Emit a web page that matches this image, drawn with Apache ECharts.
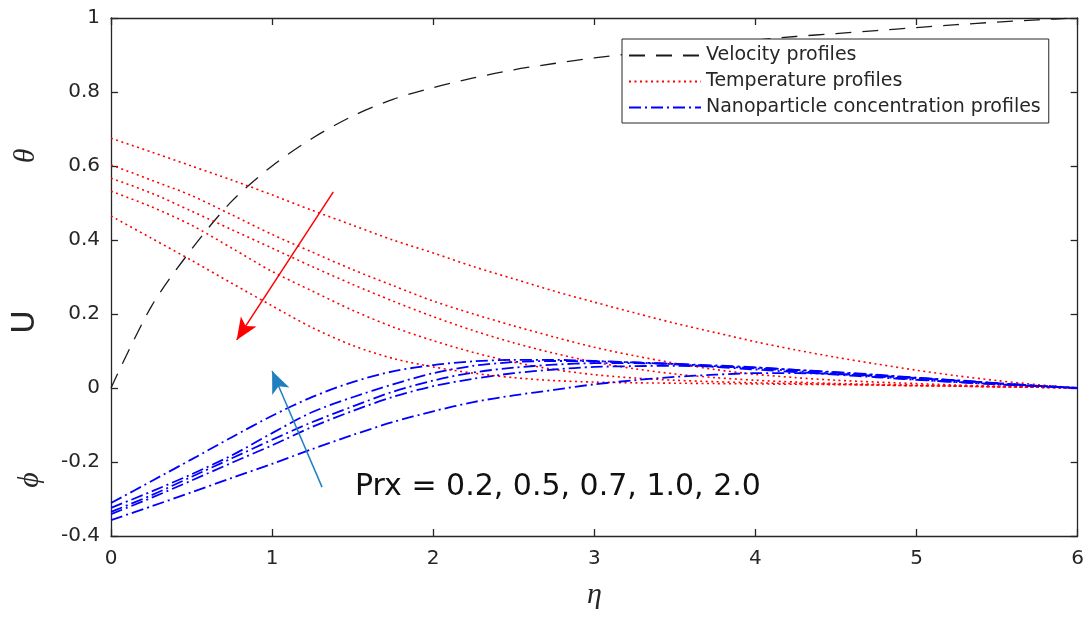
<!DOCTYPE html>
<html>
<head>
<meta charset="utf-8">
<script src="https://cdn.jsdelivr.net/npm/echarts@6/dist/echarts.min.js"></script>
<style>
  html, body { margin: 0; padding: 0; background: #fff; }
  #chart { width: 1087px; height: 618px; }
</style>
</head>
<body>
<div id="chart"></div>
<script>
// eta grid
var eta = [0, 0.25, 0.5, 0.75, 1, 1.25, 1.5, 1.75, 2, 2.25, 2.5, 2.75, 3, 3.25, 3.5, 3.75, 4, 4.25, 4.5, 4.75, 5, 5.25, 5.5, 5.75, 6];

// velocity U
var velocity = [0, 0.22, 0.375, 0.505, 0.6, 0.675, 0.735, 0.78, 0.812, 0.838, 0.86, 0.877, 0.892, 0.905, 0.917, 0.928, 0.94, 0.95, 0.958, 0.966, 0.974, 0.982, 0.989, 0.995, 1.0];

// temperature theta, Prx = 0.2, 0.5, 0.7, 1.0, 2.0
var theta02 = [0.675, 0.638, 0.6, 0.562, 0.522, 0.48, 0.44, 0.4, 0.365, 0.328, 0.295, 0.262, 0.232, 0.203, 0.175, 0.15, 0.125, 0.103, 0.083, 0.065, 0.048, 0.033, 0.02, 0.009, 0];
var theta05 = [0.603, 0.562, 0.52, 0.468, 0.415, 0.367, 0.32, 0.277, 0.235, 0.2, 0.168, 0.138, 0.11, 0.087, 0.067, 0.05, 0.037, 0.028, 0.021, 0.016, 0.012, 0.008, 0.005, 0.002, 0];
var theta07 = [0.567, 0.527, 0.478, 0.428, 0.378, 0.328, 0.28, 0.235, 0.193, 0.155, 0.122, 0.094, 0.07, 0.052, 0.038, 0.028, 0.021, 0.016, 0.012, 0.01, 0.008, 0.006, 0.004, 0.002, 0];
var theta10 = [0.532, 0.49, 0.44, 0.378, 0.315, 0.262, 0.21, 0.165, 0.128, 0.096, 0.07, 0.05, 0.036, 0.027, 0.021, 0.017, 0.014, 0.012, 0.01, 0.008, 0.006, 0.005, 0.003, 0.002, 0];
var theta20 = [0.465, 0.405, 0.345, 0.283, 0.222, 0.163, 0.115, 0.08, 0.057, 0.04, 0.028, 0.02, 0.016, 0.014, 0.013, 0.012, 0.011, 0.01, 0.009, 0.008, 0.006, 0.005, 0.003, 0.002, 0];

// nanoparticle concentration phi
var phi02 = [-0.357, -0.32, -0.282, -0.243, -0.205, -0.165, -0.127, -0.092, -0.063, -0.038, -0.02, -0.005, 0.01, 0.021, 0.03, 0.036, 0.04, 0.04, 0.038, 0.033, 0.027, 0.02, 0.013, 0.006, 0];
var phi05 = [-0.341, -0.297, -0.25, -0.202, -0.155, -0.105, -0.062, -0.024, 0.005, 0.025, 0.04, 0.05, 0.057, 0.059, 0.06, 0.058, 0.055, 0.049, 0.043, 0.036, 0.028, 0.021, 0.013, 0.006, 0];
var phi07 = [-0.335, -0.29, -0.24, -0.19, -0.14, -0.092, -0.05, -0.01, 0.02, 0.042, 0.055, 0.063, 0.067, 0.067, 0.065, 0.061, 0.056, 0.049, 0.042, 0.035, 0.027, 0.02, 0.012, 0.006, 0];
var phi10 = [-0.324, -0.28, -0.233, -0.182, -0.122, -0.065, -0.025, 0.01, 0.04, 0.06, 0.07, 0.073, 0.072, 0.069, 0.065, 0.059, 0.053, 0.046, 0.038, 0.031, 0.023, 0.016, 0.01, 0.005, 0];
var phi20 = [-0.311, -0.252, -0.193, -0.133, -0.075, -0.024, 0.016, 0.045, 0.062, 0.072, 0.076, 0.076, 0.073, 0.069, 0.064, 0.057, 0.05, 0.043, 0.036, 0.029, 0.022, 0.016, 0.01, 0.005, 0];

// arrows [eta, value] tail -> head
var redArrow = [[1.38, 0.53], [0.78, 0.13]];
var blueArrow = [[1.31, -0.268], [1.0, 0.046]];

var axisColor = '#262626';
var font = 'DejaVu Sans';

function pts(arr) {
    return eta.map(function (x, i) { return [x, arr[i]]; });
}

var myChart = echarts.init(document.getElementById('chart'));

var series = [];
series.push({
    name: 'Velocity profiles',
    type: 'line',
    data: pts(velocity),
    symbol: 'none',
    smooth: 0.3,
    lineStyle: { color: '#1a1a1a', width: 1.3, type: [16, 11] },
    itemStyle: { color: '#1a1a1a' },
    markLine: {
        silent: true,
        symbol: ['none', 'arrow'],
        symbolSize: [14, 22],
        label: { show: false },
        data: [
            [{ coord: redArrow[0], lineStyle: { color: '#ff0000', width: 1.5, type: 'solid' } }, { coord: redArrow[1] }],
            [{ coord: blueArrow[0], lineStyle: { color: '#1f80c0', width: 1.5, type: 'solid' } }, { coord: blueArrow[1] }]
        ]
    }
});
[theta02, theta05, theta07, theta10, theta20].forEach(function (arr) {
    series.push({
        name: 'Temperature profiles',
        type: 'line',
        data: pts(arr),
        symbol: 'none',
        smooth: 0.3,
        lineStyle: { color: '#ff0000', width: 1.6, type: [2, 3.5] },
        itemStyle: { color: '#ff0000' }
    });
});
[phi02, phi05, phi07, phi10, phi20].forEach(function (arr) {
    series.push({
        name: 'Nanoparticle concentration profiles',
        type: 'line',
        data: pts(arr),
        symbol: 'none',
        smooth: 0.3,
        lineStyle: { color: '#0000ff', width: 1.8, type: [12, 4, 2, 4] },
        itemStyle: { color: '#0000ff' }
    });
});

var tickStyle = { inside: true, length: 7, lineStyle: { color: axisColor, width: 1.3 } };
var lineStyle = { onZero: false, lineStyle: { color: axisColor, width: 1.3 } };

var option = {
    animation: false,
    backgroundColor: '#fff',
    grid: { left: 111, right: 9, top: 18, bottom: 82 },
    legend: {
        orient: 'vertical',
        left: 622,
        top: 39,
        itemWidth: 72,
        itemHeight: 14,
        itemGap: 7,
        padding: [7, 8, 6, 6],
        backgroundColor: '#fff',
        borderColor: axisColor,
        borderWidth: 1,
        itemStyle: { opacity: 0 },
        textStyle: { fontFamily: font, fontSize: 19, color: axisColor },
        data: ['Velocity profiles', 'Temperature profiles', 'Nanoparticle concentration profiles']
    },
    xAxis: [{
        type: 'value', min: 0, max: 6, interval: 1, position: 'bottom',
        name: 'η', nameLocation: 'middle', nameGap: 44,
        nameTextStyle: { fontFamily: 'Liberation Serif', fontStyle: 'italic', fontSize: 30, color: axisColor },
        axisLine: lineStyle,
        axisTick: tickStyle,
        axisLabel: { fontFamily: font, fontSize: 20, color: axisColor, margin: 13 },
        splitLine: { show: false }
    }, {
        type: 'value', min: 0, max: 6, interval: 1, position: 'top',
        axisLine: lineStyle,
        axisTick: tickStyle,
        axisLabel: { show: false },
        splitLine: { show: false }
    }],
    yAxis: [{
        type: 'value', min: -0.4, max: 1, interval: 0.2, position: 'left',
        axisLine: { show: true, onZero: false, lineStyle: { color: axisColor, width: 1.3 } },
        axisTick: { show: true, inside: true, length: 7, lineStyle: { color: axisColor, width: 1.3 } },
        axisLabel: { fontFamily: font, fontSize: 20, color: axisColor, margin: 11 },
        splitLine: { show: false }
    }, {
        type: 'value', min: -0.4, max: 1, interval: 0.2, position: 'right',
        axisLine: { show: true, onZero: false, lineStyle: { color: axisColor, width: 1.3 } },
        axisTick: { show: true, inside: true, length: 7, lineStyle: { color: axisColor, width: 1.3 } },
        axisLabel: { show: false },
        splitLine: { show: false }
    }],
    graphic: [
        { type: 'text', x: 26, y: 156, rotation: Math.PI / 2,
          style: { text: 'θ', fontFamily: 'Liberation Serif', fontStyle: 'italic', fontSize: 30, fill: axisColor, align: 'center', verticalAlign: 'middle' } },
        { type: 'text', x: 26, y: 322, rotation: Math.PI / 2,
          style: { text: 'U', fontFamily: font, fontSize: 32, fill: axisColor, align: 'center', verticalAlign: 'middle' } },
        { type: 'text', x: 30, y: 480, rotation: Math.PI / 2,
          style: { text: 'ϕ', fontFamily: 'Liberation Serif', fontStyle: 'italic', fontSize: 30, fill: axisColor, align: 'center', verticalAlign: 'middle' } },
        { type: 'text', left: 355, top: 472,
          style: { text: 'Prx = 0.2, 0.5, 0.7, 1.0, 2.0', fontFamily: font, fontSize: 30, fill: '#111' } }
    ],
    series: series
};
myChart.setOption(option);
</script>
</body>
</html>
